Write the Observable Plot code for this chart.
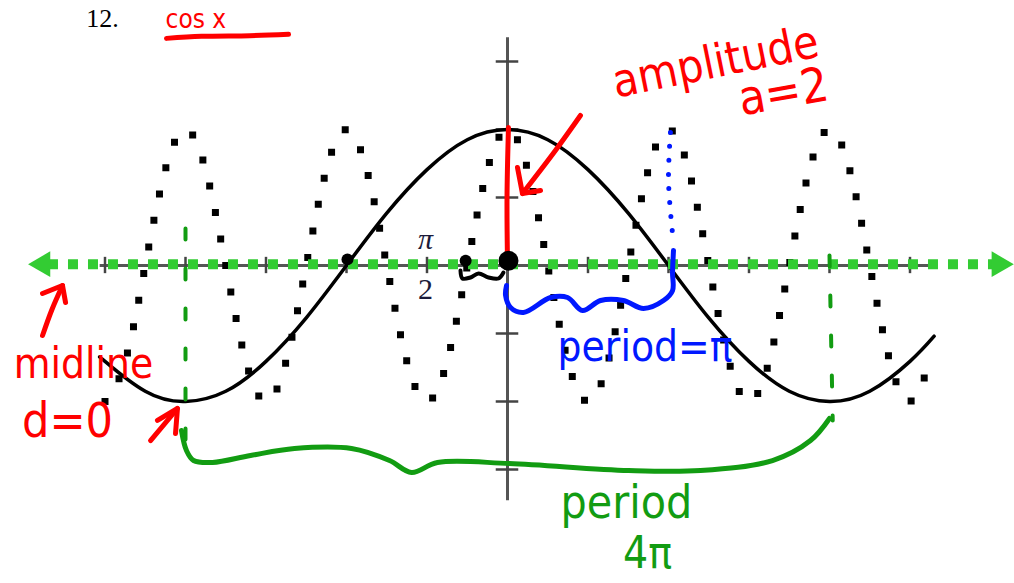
<!DOCTYPE html>
<html><head><meta charset="utf-8">
<script src="https://cdn.jsdelivr.net/npm/d3@7"></script>
<script src="https://cdn.jsdelivr.net/npm/@observablehq/plot@0.6"></script>
<style>html,body{margin:0;padding:0;background:#fff;overflow:hidden}</style>
</head><body><div id="chart"></div>
<script>
// x in units of pi, y in function units
const xTicks = [-2.5, -2, -1.5, -1, -0.5, 0.5, 1, 1.5, 2, 2.5];
const yTicks = [-3, -2, -1, 1, 2, 3];

// solid curve y = 2cos(x/2)
const solidX = [-2.52, -2.5, -2.25, -2, -1.75, -1.5, -1.25, -1, -0.75, -0.5, -0.25, 0, 0.25, 0.5, 0.75, 1, 1.25, 1.5, 1.75, 2, 2.25, 2.5, 2.65];
const solidY = [-1.37, -1.41, -1.85, -2, -1.85, -1.41, -0.77, 0, 0.77, 1.41, 1.85, 2, 1.85, 1.41, 0.77, 0, -0.77, -1.41, -1.85, -2, -1.85, -1.41, -1.04];

// dotted curve y = 2cos(2x)
const dotX = [-2.5, -2.375, -2.25, -2.125, -2, -1.875, -1.75, -1.625, -1.5, -1.375, -1.25, -1.125, -1, -0.875, -0.75, -0.625, -0.5, -0.375, -0.25, -0.125, 0, 0.125, 0.25, 0.375, 0.5, 0.625, 0.75, 0.875, 1, 1.125, 1.25, 1.375, 1.5, 1.625, 1.75, 1.875, 2, 2.125, 2.25, 2.375, 2.5, 2.625];
const dotY = [-2, -1.41, 0, 1.41, 2, 1.41, 0, -1.41, -2, -1.41, 0, 1.41, 2, 1.41, 0, -1.41, -2, -1.41, 0, 1.41, 2, 1.41, 0, -1.41, -2, -1.41, 0, 1.41, 2, 1.41, 0, -1.41, -2, -1.41, 0, 1.41, 2, 1.41, 0, -1.41, -2, -1.41];

// hand-drawn annotation strokes (data units)
const redAmpLine = [[0.006, 2.03], [-0.003, 1.0], [0, 0.05]];
const redAmpArrow = [[0.453, 2.206], [0.30, 1.70], [0.093, 1.059]];
const redAmpHead = [[0.062, 1.441], [0.093, 1.059], [0.205, 1.103]];
const redMidArrow = [[-2.888, -1.029], [-2.83, -0.65], [-2.764, -0.294]];
const redMidHead = [[-2.888, -0.412], [-2.764, -0.294], [-2.745, -0.544]];
const redMinArrow = [[-2.217, -2.574], [-2.050, -2.103]];
const redMinHead = [[-2.174, -2.279], [-2.050, -2.103], [-2.062, -2.471]];
const underline = [[-2.118, 3.34], [-1.90, 3.37], [-1.60, 3.38], [-1.36, 3.40]];
const squiggle = [[-0.292, -0.074], [-0.280, -0.191], [-0.230, -0.176], [-0.180, -0.118], [-0.118, -0.176], [-0.056, -0.191], [-0.025, -0.103]];
const blueBrace = [[1.031, 0.221], [1.025, -0.103], [1.025, -0.368], [0.969, -0.515], [0.845, -0.632], [0.720, -0.515], [0.578, -0.515], [0.466, -0.662], [0.373, -0.471], [0.267, -0.471], [0.099, -0.691], [0.019, -0.618], [-0.012, -0.441], [-0.006, -0.294]];
const blueDots = [[1.012, 1.956], [1.0, 1.25], [1.025, 0.47]];
const greenBrace = [[-2.025, -2.426], [-1.994, -2.721], [-1.950, -2.868], [-1.832, -2.897], [-1.596, -2.794], [-1.323, -2.691], [-0.969, -2.691], [-0.733, -2.868], [-0.596, -3.044], [-0.435, -2.897], [0.012, -2.912], [0.752, -3.015], [1.199, -3.015], [1.646, -2.868], [1.882, -2.574], [2.0, -2.25]];
const greenLeftV = [[-2.0, 0.544], [-2.0, -2.57]];
const greenRightV = [[2.0, 0.147], [2.02, -2.28]];
const blackDots = [{x: 0.006, y: 0.07, r: 10}, {x: -0.26, y: 0.07, r: 6}, {x: -0.994, y: 0.09, r: 6}];

const red = "#ff0000", blue = "#0018ff", green = "#129c12", lime = "#33cc33";
const hand = "DejaVu Sans Condensed, Liberation Sans Narrow, DejaVu Sans, sans-serif";

const txt = (t, o) => Plot.text([t], {text: d => d, ...o});
const strokeLine = (pts, o) => Plot.line(pts, {strokeLinecap: "round", strokeLinejoin: "round", ...o});

const chart = Plot.plot({
  width: 1014, height: 583,
  marginLeft: 0, marginRight: 0, marginTop: 0, marginBottom: 0,
  x: {domain: [-507 / 161, 507 / 161], axis: null},
  y: {domain: [-318 / 68, 265 / 68], axis: null},
  r: {type: "identity"},
  style: {background: "#fff", overflow: "visible"},
  marks: [
    // axes
    Plot.ruleY([0], {x1: -2.53, x2: 2.66, stroke: "#555", strokeWidth: 3}),
    Plot.ruleX([0], {y1: -3.46, y2: 3.35, stroke: "#555", strokeWidth: 3}),
    Plot.ruleX(xTicks, {y1: -0.12, y2: 0.12, stroke: "#444", strokeWidth: 2.5}),
    Plot.ruleY(yTicks, {x1: -0.07, x2: 0.07, stroke: "#444", strokeWidth: 2.5}),
    // curves
    Plot.line(dotX, {x: d => d, y: (d, i) => dotY[i], curve: "natural", stroke: "#000", strokeWidth: 7, strokeDasharray: "0 27", strokeLinecap: "square"}),
    Plot.line(solidX, {x: d => d, y: (d, i) => solidY[i], curve: "natural", stroke: "#000", strokeWidth: 3.5}),
    // tick label pi/2
    txt("π", {x: -0.509, y: 0.39, fontFamily: "Liberation Serif, serif", fontStyle: "italic", fontSize: 30, fill: "#1b1b3a"}),
    txt("2", {x: -0.509, y: -0.344, fontFamily: "Liberation Serif, serif", fontSize: 30, fill: "#1b1b3a"}),
    // green midline with arrows
    Plot.ruleY([0.02], {x1: -2.851, x2: 3.031, stroke: lime, strokeWidth: 10, strokeDasharray: "10 10"}),
    Plot.dot([{x: -2.886, a: -90}, {x: 3.053, a: 90}], {x: "x", y: 0.02, rotate: "a", symbol: "triangle", r: 9.5, fill: lime, stroke: "none"}),
    // green period annotation
    strokeLine(greenLeftV, {stroke: green, strokeWidth: 4, strokeDasharray: "11 29"}),
    strokeLine(greenRightV, {stroke: green, strokeWidth: 4, strokeDasharray: "11 29"}),
    strokeLine(greenBrace, {curve: "catmull-rom", stroke: green, strokeWidth: 5}),
    txt("period", {x: 0.739, y: -3.5, fontFamily: hand, fontSize: 46, fill: green}),
    txt("4π", {x: 0.87, y: -4.24, fontFamily: hand, fontSize: 44, fill: green}),
    // blue period annotation
    strokeLine(blueDots, {curve: "catmull-rom", stroke: blue, strokeWidth: 5, strokeDasharray: "0 14"}),
    strokeLine(blueBrace, {curve: "catmull-rom", stroke: blue, strokeWidth: 5}),
    txt("period=π", {x: 0.854, y: -1.2, fontFamily: hand, fontSize: 42, fill: blue}),
    // red amplitude
    strokeLine(redAmpLine, {curve: "catmull-rom", stroke: red, strokeWidth: 5}),
    strokeLine(redAmpArrow, {curve: "catmull-rom", stroke: red, strokeWidth: 5}),
    strokeLine(redAmpHead, {stroke: red, strokeWidth: 5}),
    txt("amplitude", {x: 1.292, y: 2.985, rotate: -11.5, fontFamily: hand, fontSize: 46, fill: red}),
    txt("a=2", {x: 1.714, y: 2.544, rotate: -10, fontFamily: hand, fontSize: 48, fill: red}),
    // red midline
    strokeLine(redMidArrow, {curve: "catmull-rom", stroke: red, strokeWidth: 5}),
    strokeLine(redMidHead, {stroke: red, strokeWidth: 5}),
    strokeLine(redMinArrow, {stroke: red, strokeWidth: 5}),
    strokeLine(redMinHead, {stroke: red, strokeWidth: 5}),
    txt("midline", {x: -2.634, y: -1.456, fontFamily: hand, fontSize: 42, fill: red}),
    txt("d=0", {x: -2.733, y: -2.294, fontFamily: hand, fontSize: 48, fill: red}),
    // black marks
    strokeLine(squiggle, {curve: "catmull-rom", stroke: "#000", strokeWidth: 4}),
    Plot.dot(blackDots, {x: "x", y: "y", r: "r", fill: "#000"}),
    // heading
    txt("12.", {x: -2.516, y: 3.637, fontFamily: "Liberation Serif, serif", fontSize: 26, fill: "#000"}),
    txt("cos x", {x: -2.124, y: 3.622, textAnchor: "start", fontFamily: hand, fontSize: 26, fill: red}),
    strokeLine(underline, {curve: "catmull-rom", stroke: red, strokeWidth: 5})
  ]
});
document.getElementById("chart").appendChild(chart);
</script></body></html>
